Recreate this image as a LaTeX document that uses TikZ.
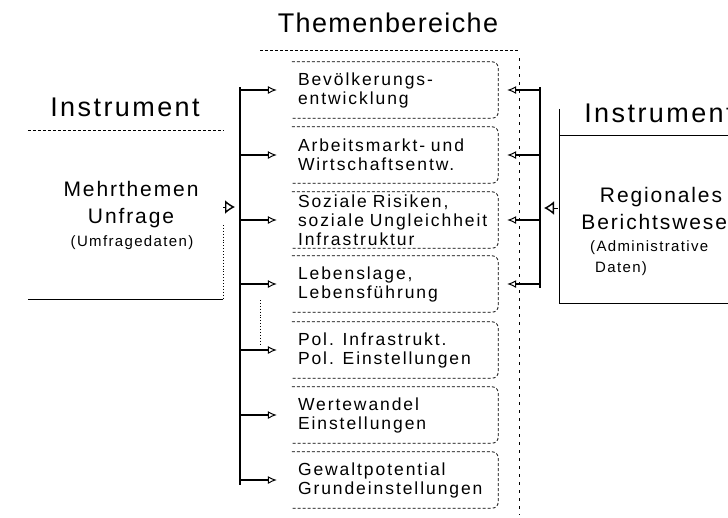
\documentclass[tikz,border=0pt]{standalone}
\usepackage{fontspec}
\setmainfont{Liberation Sans}
\newfontfamily\titlefont[LetterSpace=5]{Liberation Sans}
\newfontfamily\instfont[LetterSpace=9]{Liberation Sans}
\newfontfamily\themefont[LetterSpace=11]{Liberation Sans}
\usetikzlibrary{arrows.meta}
\tikzset{
  themebox/.style={minimum width=206pt, minimum height=56pt, text width=194pt, inner xsep=6pt, inner ysep=0pt, align=left, font=\themefont\fontsize{17.5}{19}\selectfont},
  boxline/.style={densely dashed, line width=0.8pt, rounded corners=6pt},
  bracket/.style={line width=2.4pt},
  tip/.style={-{Latex[open,length=9pt,width=8pt,line width=1pt]}},
  bigtip/.style={-{Latex[open,length=10pt,width=14pt,line width=1.4pt]}},
  larrow/.style={tip, line width=1.5pt, shorten >=15pt},
  rarrow/.style={tip, line width=1.5pt, shorten >=9pt},
  insttitle/.style={font=\instfont\fontsize{27}{30}\selectfont, inner sep=0pt},
  insttext/.style={font=\instfont\fontsize{21}{27}\selectfont, inner sep=0pt}
}
\begin{document}
\begin{tikzpicture}[x=1pt,y=-1pt]
\useasboundingbox (0,0) rectangle (728,517);
\node[font=\titlefont\fontsize{27}{30}\selectfont, inner sep=0pt] (title) at (388,23) {Themenbereiche};
\draw[densely dashed, line width=0.8pt] (260,50) -- (518,50);
\foreach \n/\y/\t in {1/90/{Bevölkerungs-\\entwicklung}, 2/155/{Arbeitsmarkt- und\\Wirtschaftsentw.}, 3/220/{Soziale Risiken,\\soziale Ungleichheit\\Infrastruktur}, 4/284/{Lebenslage,\\Lebensführung}, 5/350/{Pol. Infrastrukt.\\Pol. Einstellungen}, 6/415/{Wertewandel\\Einstellungen}, 7/480/{Gewaltpotential\\Grundeinstellungen}} {
  \node[themebox] (b\n) at (395,\y) {\t};
  \draw[boxline] (b\n.north west) -| (b\n.south east) -- (b\n.south west);
  \coordinate (l\n) at (240,\y);
};
\foreach \n/\y in {1/90, 2/155, 3/220, 4/284} { \coordinate (r\n) at (540,\y); };
\draw[bracket] (240,87) -- (240,485); \draw[bracket] (540,87) -- (540,288);
\foreach \n in {1,...,7} { \draw[larrow] (l\n) -- (b\n); };
\foreach \n in {1,...,4} { \draw[rarrow] (r\n) -- (b\n); };
\draw[dash pattern=on 3pt off 5pt, line width=0.8pt] (519,58) -- (519,515);
\draw[dotted, line width=0.9pt] (260,300) -- (260,345);
% Instrument links
\node[insttitle] (inst1) at (125,107) {Instrument};
\node[minimum width=195pt, minimum height=168pt, inner sep=0pt] (lb) at (125.5,215) {};
\draw[densely dashed, line width=0.9pt] (lb.north west) -- (lb.north east);
\draw[line width=0.9pt] (lb.south west) -- (lb.south east);
\draw[dotted, line width=0.9pt] ([yshift=-10pt]lb.east) -- (lb.south east);
\node[insttext, align=center] (mehr) at (131,205) {Mehrthemen\\Unfrage};
\node[font=\instfont\fontsize{15}{18}\selectfont, inner sep=0pt] (umf) at (132,243) {(Umfragedaten)};
\coordinate (lin) at (240,207);
\draw[bigtip, line width=1pt, shorten <=0pt, shorten >=5pt] (lin -| lb.east) -- (lin);
% Instrument rechts
\node[insttitle] (inst2) at (659,113) {Instrument};
\node[minimum width=200pt, minimum height=167pt, inner sep=0pt] (rb) at (660,219.5) {};
\draw[line width=0.9pt] (rb.north west) -- (rb.north east);
\draw[line width=0.9pt] (rb.north west) ++(0,-27) -- (rb.south west) -- (rb.south east);
\node[insttext, align=center] (reg) at (661,208) {Regionales\\Berichtswesen};
\node[font=\instfont\fontsize{15}{21}\selectfont, inner sep=0pt, anchor=north west, align=left] (adm) at (590,240) {(Administrative\\\phantom{(}Daten)};
\coordinate (rin) at (540,208);
\draw[bigtip, line width=1pt, shorten <=2pt, shorten >=4pt] (rin -| rb.west) -- (rin);
\end{tikzpicture}
\end{document}
